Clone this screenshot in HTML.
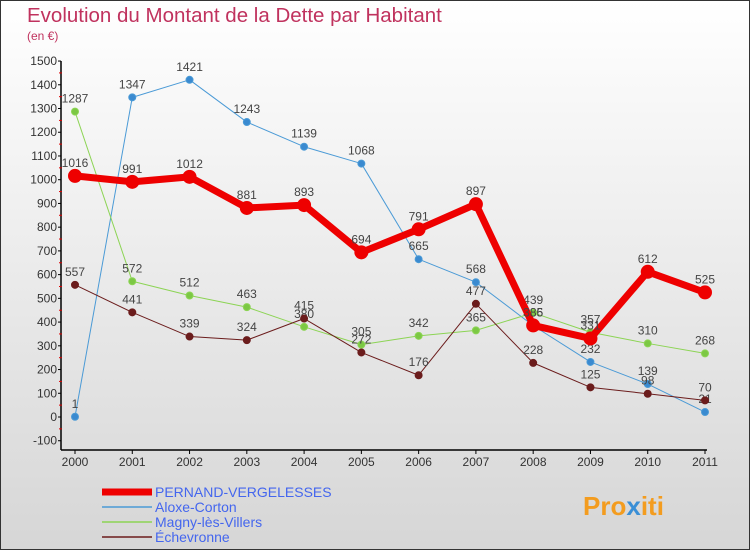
<!DOCTYPE html>
<html><head><meta charset="utf-8"><style>
body{margin:0;width:750px;height:550px;overflow:hidden;font-family:"Liberation Sans",sans-serif}
</style></head><body>
<svg id="c" width="750" height="550" xmlns="http://www.w3.org/2000/svg">
<defs><linearGradient id="bg" x1="0" y1="0" x2="0" y2="1"><stop offset="0" stop-color="#ffffff"/><stop offset="1" stop-color="#d6d6d6"/></linearGradient></defs>
<rect x="0.5" y="0.5" width="749" height="549" fill="url(#bg)" stroke="#333"/>
<text x="27" y="22" font-size="20.5" fill="#c0325e">Evolution du Montant de la Dette par Habitant</text>
<text x="27" y="40" font-size="12" fill="#c0325e">(en €)</text>
<g id="axes"></g><g id="series"></g>
<text x="583" y="515" font-size="26" font-weight="bold" fill="#f39c1f">Pro<tspan fill="#3a8fd6">x</tspan>iti</text>
</svg>
<script>
const years=[2000,2001,2002,2003,2004,2005,2006,2007,2008,2009,2010,2011];
const pernand=[1016,991,1012,881,893,694,791,897,386,331,612,525];
const aloxe=[1,1347,1421,1243,1139,1068,665,568,385,232,139,21];
const magny=[1287,572,512,463,380,305,342,365,439,357,310,268];
const echev=[557,441,339,324,415,272,176,477,228,125,98,70];
const yTicks=[-100,0,100,200,300,400,500,600,700,800,900,1000,1100,1200,1300,1400,1500];
const NS="http://www.w3.org/2000/svg";
const X=i=>75+i*(630/11);
const Y=v=>417-v*0.2373;
function mk(t,a,p){const e=document.createElementNS(NS,t);for(const k in a)e.setAttribute(k,a[k]);(p||document.getElementById('series')).appendChild(e);return e;}
const ax=document.getElementById('axes');
let e=mk('line',{x1:61,y1:Y(1500),x2:61,y2:450,stroke:'#000','stroke-width':1.5},ax);

e=mk('line',{x1:61,y1:450,x2:707,y2:450,stroke:'#000','stroke-width':1.5},ax);

yTicks.forEach(v=>{
 mk('line',{x1:58,y1:Y(v),x2:61,y2:Y(v),stroke:'#000'},ax);
 if(v<1500)mk('line',{x1:59,y1:Y(v+50),x2:62,y2:Y(v+50),stroke:'#d00'},ax);
 const t=mk('text',{x:57,y:Y(v)+4,'font-size':12,fill:'#333','text-anchor':'end'},ax);t.textContent=v;
 
});
years.forEach((y,i)=>{
 mk('line',{x1:X(i),y1:450,x2:X(i),y2:454,stroke:'#000'},ax);
 const t=mk('text',{x:X(i),y:466,'font-size':12,fill:'#333','text-anchor':'middle'},ax);t.textContent=y;
 
});
function series(d,col,dot,w,r,name){
 const g=mk('g',{});
 
 const l=mk('polyline',{points:d.map((v,i)=>X(i)+','+Y(v)).join(' '),fill:'none',stroke:col,'stroke-width':w,'stroke-linejoin':'round'},g);
 
 d.forEach((v,i)=>{
  const c=mk('circle',{cx:X(i),cy:Y(v),r:r,fill:dot,stroke:col,'stroke-width':1},g);
  
  const t=mk('text',{x:X(i),y:Y(v)-9,'font-size':12,fill:'#444','text-anchor':'middle'},g);t.textContent=v;
  
 });
}
series(aloxe,'#4a9ad6','#3a8ad0',1,3.5,'aloxe-corton');
series(magny,'#8cd454','#7cc844',1,3.5,'magny-les-villers');
series(echev,'#6b1c1c','#6b1c1c',1,3.5,'echevronne');
series(pernand,'#ee0000','#ee0000',7,6.5,'pernand-vergelesses');
const leg=[['PERNAND-VERGELESSES','#ee0000',7],['Aloxe-Corton','#4a9ad6',1.5],['Magny-lès-Villers','#8cd454',1.5],['Échevronne','#6b1c1c',1.5]];
leg.forEach((l,i)=>{
 const y=492+i*15;
 const g=mk('g',{},document.getElementById('c'));
 
 mk('line',{x1:102,y1:y,x2:152,y2:y,stroke:l[1],'stroke-width':l[2]},g);
 const t=mk('text',{x:155,y:y+5,'font-size':14,fill:'#4466ee'},g);t.textContent=l[0];
});
</script>
</body></html>
